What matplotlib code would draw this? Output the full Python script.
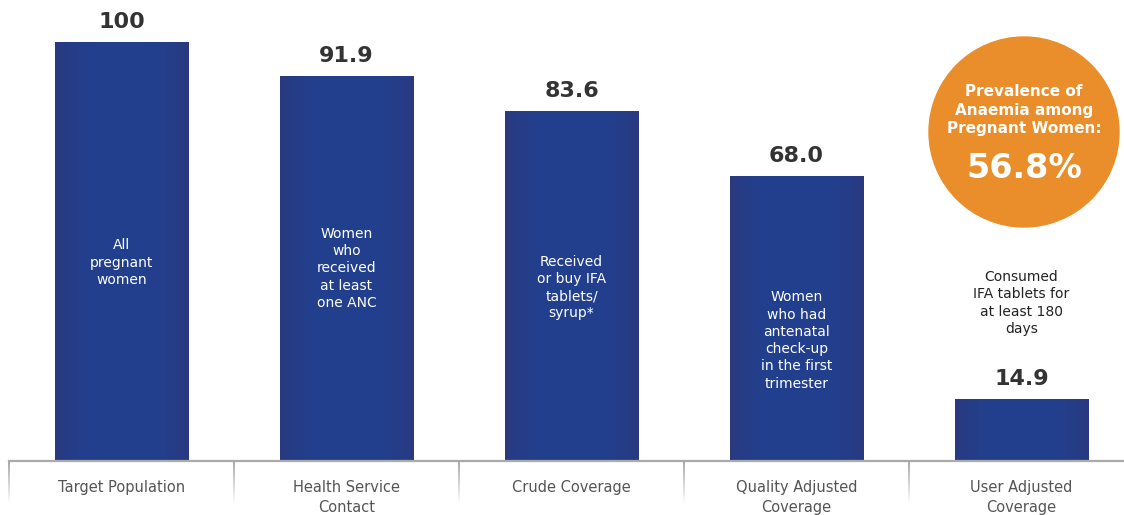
import numpy as np
import matplotlib
matplotlib.use("Agg")
import matplotlib.pyplot as plt
from matplotlib.patches import Ellipse
from matplotlib.collections import LineCollection

plt.rcParams['font.family'] = ['DejaVu Sans']

# Coverage cascade for iron-folic acid among pregnant women
stages = ["Target Population", "Health Service\nContact", "Crude Coverage",
          "Quality Adjusted\nCoverage", "User Adjusted\nCoverage"]
values = [100, 91.9, 83.6, 68.0, 14.9]
value_labels = ["100", "91.9", "83.6", "68.0", "14.9"]
descriptions = ["All\npregnant\nwomen",
                "Women\nwho\nreceived\nat least\none ANC",
                "Received\nor buy IFA\ntablets/\nsyrup*",
                "Women\nwho had\nantenatal\ncheck-up\nin the first\ntrimester",
                "Consumed\nIFA tablets for\nat least 180\ndays"]
anaemia_prevalence = 56.8

W, H = 1124, 515
fig = plt.figure(figsize=(W / 100, H / 100), dpi=100)

# axes geometry in pixels
left_px, base_px = 9, 461
ax = fig.add_axes([left_px / W, (H - base_px) / H, (W - left_px) / W, base_px / H])
px_per_unit = 4.19
box_w = 225
ax.axis('off')

x = np.arange(len(values))
bar_w = 134 / box_w
bars = ax.bar(x, values, width=bar_w, color="#23408e", zorder=2)

# horizontal shading across each bar: darker edges, brighter middle
t = np.linspace(0, 1, 256)
prof = np.clip(np.abs(t - 0.5) * 2, 0, 1) ** 3
edge = np.array([0x2a, 0x39, 0x7e]) / 255
mid = np.array([0x22, 0x40, 0x8f]) / 255
grad = (mid[None, :] * (1 - prof[:, None]) + edge[None, :] * prof[:, None])[None, :, :]
for b in bars:
    x0, w_, h_ = b.get_x(), b.get_width(), b.get_height()
    im = ax.imshow(grad, extent=[x0, x0 + w_, 0, h_], aspect='auto',
                   interpolation='bilinear', zorder=3)
    im.set_clip_path(b)
ax.set_xlim(-0.5, -0.5 + (W - left_px) / box_w)
ax.set_ylim(0, base_px / px_per_unit)

# value labels
for xi, v, lab in zip(x, values, value_labels):
    ax.annotate(lab, (xi, v), xytext=(0, 7), textcoords='offset points',
                ha='center', va='bottom', fontsize=16, fontweight='bold',
                color='#333333', zorder=5)

# descriptions inside bars (last one sits above its short bar)
desc_px = [262.5, 268.5, 287.5, 340.5, 303]
for i, (xi, d, p) in enumerate(zip(x, descriptions, desc_px)):
    col = 'white' if i < 4 else '#222222'
    ax.text(xi, (base_px - p) / px_per_unit, d, ha='center', va='center',
            fontsize=10, color=col, linespacing=1.3, zorder=5)

# baseline and fading category dividers
ax.plot([-0.5, 5], [0, 0], color='#aaaaaa', lw=1.6, clip_on=False, zorder=4)
xt = ax.get_xaxis_transform()
n = 30
for k in range(len(values)):
    xd = k - 0.5
    ys = np.linspace(0, -42 / base_px, n + 1)
    segs = [[(xd, ys[j]), (xd, ys[j + 1])] for j in range(n)]
    cols = [(0.6, 0.6, 0.6, 1 - j / n) for j in range(n)]
    lc = LineCollection(segs, colors=cols, linewidths=1.2, transform=xt, clip_on=False)
    ax.add_collection(lc)

# category labels
for xi, s in zip(x, stages):
    ax.text(xi, (base_px - 480) / base_px, s, transform=xt, ha='center', va='top',
            fontsize=10.5, color='#555555', linespacing=1.45)

# anaemia prevalence badge
cx, cy, r = 1024, 132, 95
fig.patches.append(Ellipse((cx / W, 1 - cy / H), 2 * r / W, 2 * r / H,
                           transform=fig.transFigure, color='#e98e2a', zorder=1))
fig.text(cx / W, 1 - 110 / H, "Prevalence of\nAnaemia among\nPregnant Women:",
         ha='center', va='center', fontsize=11, fontweight='bold', color='white',
         linespacing=1.3)
fig.text(cx / W, 1 - 168 / H, f"{anaemia_prevalence}%", ha='center', va='center',
         fontsize=24, fontweight='bold', color='white')

fig.savefig("out.png", dpi=100)
